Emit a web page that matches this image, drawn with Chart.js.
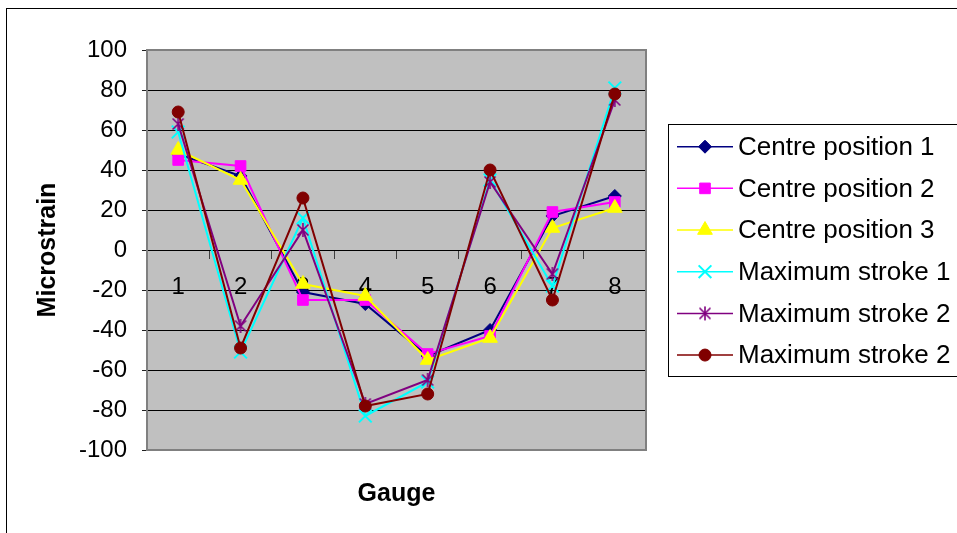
<!DOCTYPE html>
<html>
<head>
<meta charset="utf-8">
<title>Microstrain by gauge</title>
<script src="https://cdn.jsdelivr.net/npm/chart.js@4/dist/chart.umd.min.js"></script>
<style>
  html, body { margin: 0; padding: 0; background: #ffffff; }
  canvas { display: block; }
</style>
</head>
<body>
<canvas id="chart" width="957" height="533"></canvas>
<script>
// Gauge numbers along the horizontal axis
const gauges = ['1', '2', '3', '4', '5', '6', '7', '8'];

// Microstrain readings per gauge
const centre1 = [48, 37, -21, -27, -53, -40, 17, 27];
const centre2 = [45, 42, -25, -25, -52, -43, 19, 24];
const centre3 = [50, 35, -17, -23, -55, -44, 11, 21];
const maxStroke1 = [59, -51, 16, -83, -66, 35, -18, 81];
const maxStroke2a = [63, -38, 10, -77, -65, 34, -12, 75];
const maxStroke2b = [69, -49, 26, -78, -72, 40, -25, 78];

const seriesNames = ['Centre position 1', 'Centre position 2', 'Centre position 3',
  'Maximum stroke 1', 'Maximum stroke 2', 'Maximum stroke 2'];

// Vertical axis range
const yMin = -100;
const yMax = 100;
const yStep = 20;

// Asterisk marker: an X with a vertical bar through it
function makeAsterisk(color) {
  const c = document.createElement('canvas');
  c.width = 16; c.height = 16;
  const g = c.getContext('2d');
  g.strokeStyle = color;
  g.lineWidth = 1.6;
  g.beginPath();
  g.moveTo(2.5, 2.5); g.lineTo(13.5, 13.5);
  g.moveTo(13.5, 2.5); g.lineTo(2.5, 13.5);
  g.moveTo(8, 1); g.lineTo(8, 15);
  g.stroke();
  return c;
}
const asterisk = makeAsterisk('#800080');

const styles = [
  { color: '#000080', pointStyle: 'rectRot', radius: 6.5, pbw: 1 },
  { color: '#FF00FF', pointStyle: 'rect', radius: 7.5, pbw: 1 },
  { color: '#FFFF00', pointStyle: 'triangle', radius: 8.5, pbw: 1 },
  { color: '#00FFFF', pointStyle: 'crossRot', radius: 9, pbw: 2 },
  { color: '#800080', pointStyle: asterisk, radius: 8, pbw: 1 },
  { color: '#800000', pointStyle: 'circle', radius: 6, pbw: 1 }
];
const seriesValues = [centre1, centre2, centre3, maxStroke1, maxStroke2a, maxStroke2b];

const datasets = seriesValues.map((vals, i) => ({
  label: seriesNames[i],
  data: vals,
  borderColor: styles[i].color,
  backgroundColor: styles[i].color,
  pointBackgroundColor: styles[i].color,
  pointBorderColor: styles[i].color,
  pointStyle: styles[i].pointStyle,
  pointRadius: styles[i].radius,
  pointHoverRadius: styles[i].radius,
  pointBorderWidth: styles[i].pbw,
  borderWidth: 2,
  tension: 0,
  fill: false,
  order: seriesValues.length - i   // later series sit on top
}));

// Page background, plot fill, outer frame
const backdrop = {
  id: 'backdrop',
  beforeDraw(chart) {
    const { ctx, chartArea: a } = chart;
    ctx.save();
    ctx.fillStyle = '#ffffff';
    ctx.fillRect(0, 0, chart.width, chart.height);
    ctx.strokeStyle = '#000000';
    ctx.lineWidth = 1;
    ctx.strokeRect(6.5, 8.5, 3000, 3000);
    ctx.fillStyle = '#C0C0C0';
    ctx.fillRect(a.left, a.top, a.right - a.left, a.bottom - a.top);
    ctx.restore();
  },
  beforeDatasetsDraw(chart) {
    const { ctx, chartArea: a } = chart;
    ctx.save();
    ctx.strokeStyle = '#808080';
    ctx.lineWidth = 2;
    ctx.strokeRect(a.left, a.top, a.right - a.left, a.bottom - a.top);
    ctx.restore();
  }
};

// Horizontal axis title under the plot
const gaugeTitle = {
  id: 'gaugeTitle',
  afterDraw(chart) {
    const { ctx, chartArea: a } = chart;
    ctx.save();
    ctx.fillStyle = '#000000';
    ctx.font = 'bold 25px "Liberation Sans", Arial, sans-serif';
    ctx.textAlign = 'center';
    ctx.textBaseline = 'middle';
    ctx.fillText('Gauge', (a.left + a.right) / 2, 494);
    ctx.restore();
  }
};

// Boxed legend on the right: line sample with marker, then the series name
const boxLegend = {
  id: 'boxLegend',
  afterDraw(chart) {
    const { ctx } = chart;
    const boxX = 668, boxY = 124, boxH = 252;
    const rowY0 = 146.7, rowGap = 41.67;
    ctx.save();
    ctx.strokeStyle = '#000000';
    ctx.lineWidth = 1;
    ctx.fillStyle = '#ffffff';
    ctx.fillRect(boxX + 0.5, boxY + 0.5, 400, boxH);
    ctx.strokeRect(boxX + 0.5, boxY + 0.5, 400, boxH);
    chart.data.datasets.forEach((ds, i) => {
      const y = rowY0 + i * rowGap;
      ctx.strokeStyle = ds.borderColor;
      ctx.lineWidth = 1.5;
      ctx.beginPath();
      ctx.moveTo(677, y);
      ctx.lineTo(733, y);
      ctx.stroke();
      ctx.fillStyle = ds.pointBackgroundColor;
      ctx.strokeStyle = ds.pointBorderColor;
      ctx.lineWidth = ds.pointBorderWidth;
      Chart.helpers.drawPoint(ctx, {
        pointStyle: ds.pointStyle,
        radius: ds.pointRadius,
        borderWidth: ds.pointBorderWidth,
        rotation: 0
      }, 705, y);
      ctx.fillStyle = '#000000';
      ctx.font = '26px "Liberation Sans", Arial, sans-serif';
      ctx.textAlign = 'left';
      ctx.textBaseline = 'middle';
      ctx.fillText(ds.label, 738, y + 1);
    });
    ctx.restore();
  }
};

new Chart(document.getElementById('chart'), {
  type: 'line',
  data: { labels: gauges, datasets },
  plugins: [backdrop, gaugeTitle, boxLegend],
  options: {
    responsive: false,
    animation: false,
    devicePixelRatio: 1,
    layout: { padding: { top: 50, right: 311, bottom: 83, left: 0 } },
    plugins: {
      legend: { display: false },
      tooltip: { enabled: false }
    },
    scales: {
      x: {
        type: 'category',
        position: { y: 0 },
        offset: true,
        grid: {
          offset: true,
          drawOnChartArea: false,
          drawTicks: true,
          tickLength: 8,
          color: '#000000',
          tickColor: '#404040'
        },
        border: { display: true, color: '#000000', width: 1 },
        ticks: {
          color: '#000000',
          font: { family: '"Liberation Sans", Arial, sans-serif', size: 24 },
          padding: 15,
          maxRotation: 0,
          autoSkip: false
        }
      },
      y: {
        min: yMin,
        max: yMax,
        afterFit(scale) { scale.width = 147; },
        grid: {
          color: (c) => (c.tick && (c.tick.value === yMax || c.tick.value === yMin)) ? 'rgba(0,0,0,0)' : '#000000',
          tickColor: '#202020',
          tickLength: 5,
          lineWidth: 1
        },
        border: { display: true, color: '#808080', width: 2 },
        ticks: {
          stepSize: yStep,
          color: '#000000',
          font: { family: '"Liberation Sans", Arial, sans-serif', size: 24 },
          padding: 15
        },
        title: {
          display: true,
          text: 'Microstrain',
          color: '#000000',
          font: { family: '"Liberation Sans", Arial, sans-serif', size: 25, weight: 'bold' },
          padding: { top: 33, bottom: 0 }
        }
      }
    }
  }
});
</script>
</body>
</html>
